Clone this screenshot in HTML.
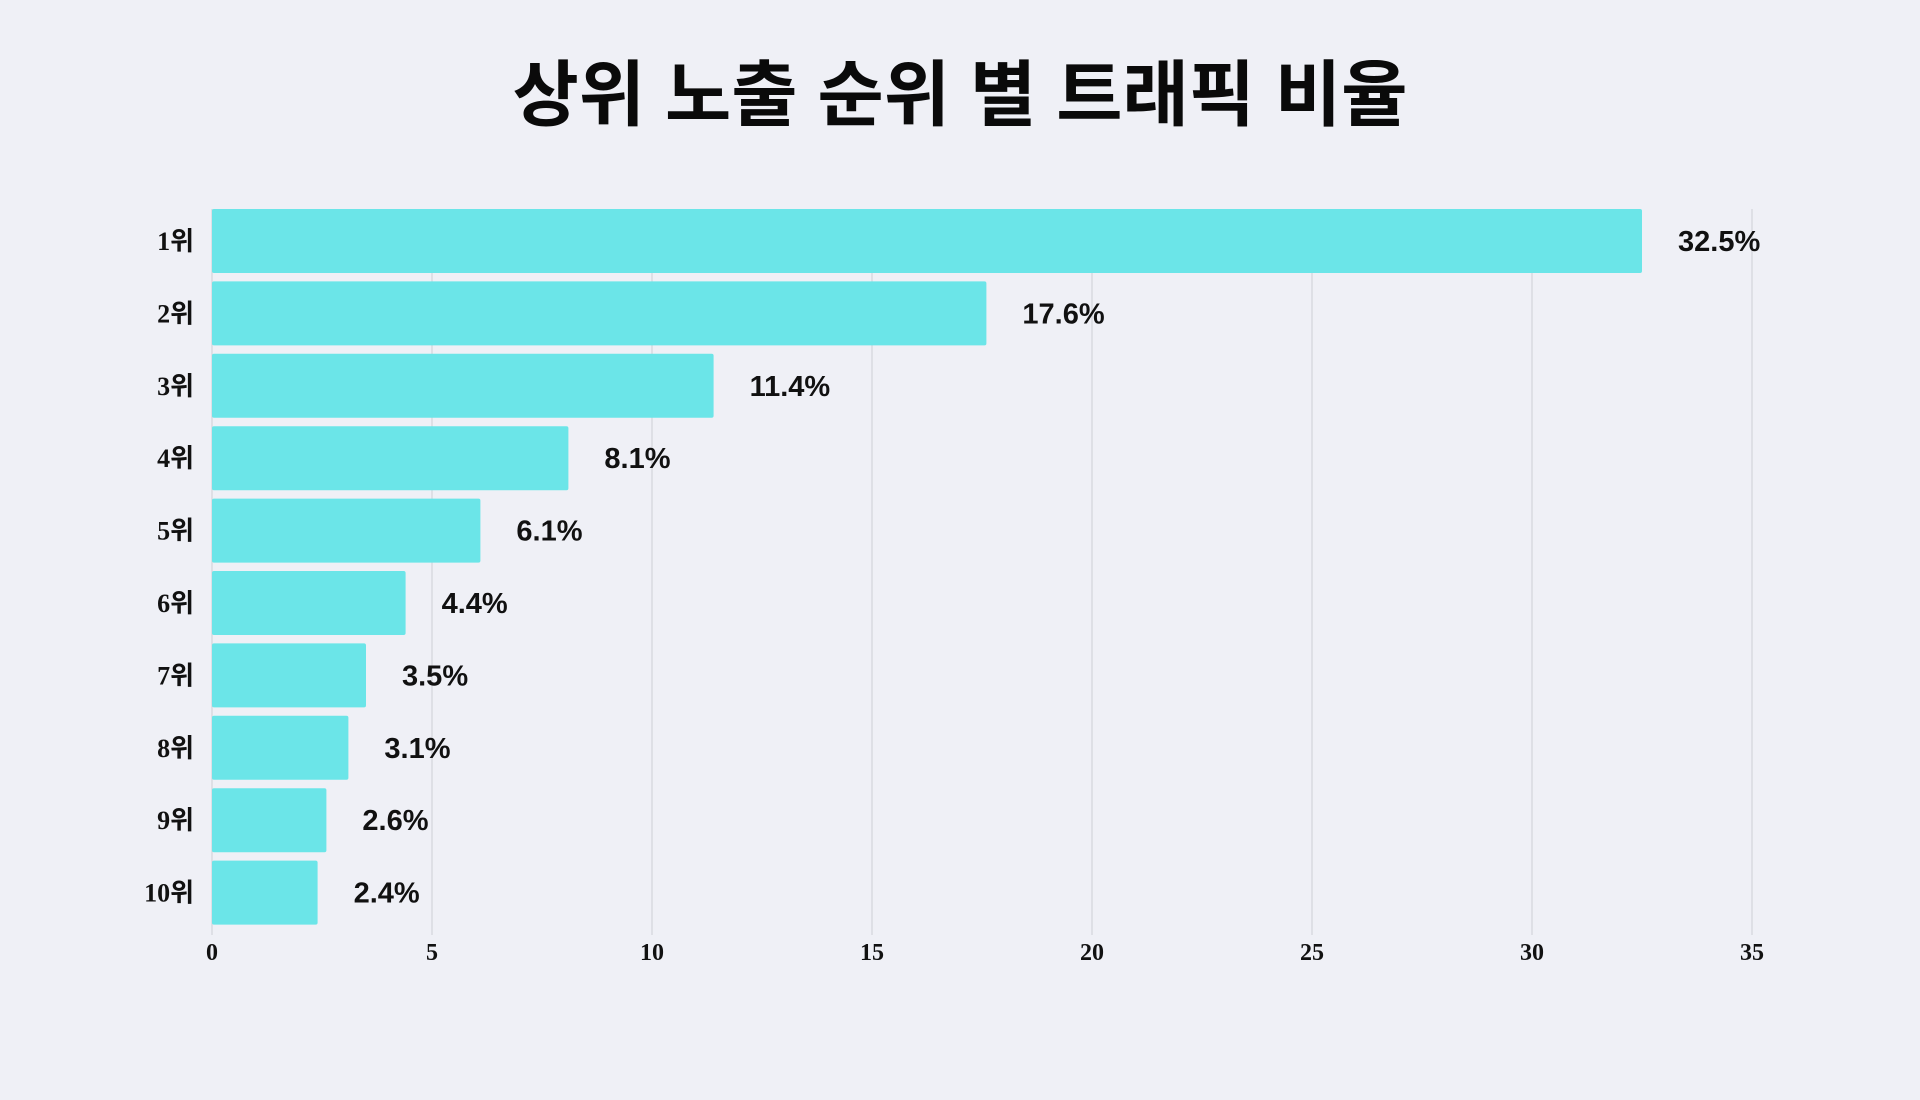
<!DOCTYPE html>
<html lang="ko">
<head>
<meta charset="utf-8">
<style>
  html,body{margin:0;padding:0;}
  body{width:1920px;height:1100px;background:#eff0f6;overflow:hidden;}
  #chart{display:block;}
</style>
</head>
<body>
<svg id="chart" width="1920" height="1100" viewBox="0 0 1920 1100" xmlns="http://www.w3.org/2000/svg">
  <rect width="1920" height="1100" fill="#eff0f6"/>
  <text x="960" y="120" text-anchor="middle" font-family="'Liberation Sans','Noto Sans CJK KR',sans-serif" font-weight="bold" font-size="72" fill="#0a0a0a">상위 노출 순위 별 트래픽 비율</text>
  <g id="grid"></g>
  <g id="bars"></g>
  <g id="xticks"></g>
  <g id="yticks"></g>
</svg>
<script>
const categories = ["1위","2위","3위","4위","5위","6위","7위","8위","9위","10위"];
const values = [32.5,17.6,11.4,8.1,6.1,4.4,3.5,3.1,2.6,2.4];
const valueLabels = ["32.5%","17.6%","11.4%","8.1%","6.1%","4.4%","3.5%","3.1%","2.6%","2.4%"];
const xTicks = [0,5,10,15,20,25,30,35];

const NS = "http://www.w3.org/2000/svg";
const x0 = 212, x1 = 1752, xMax = 35;
const yTop = 209, pitch = 72.4, barH = 64;
function xScale(v){ return x0 + (v / xMax) * (x1 - x0); }
function yScale(i){ return yTop + i * pitch; }
function mk(tag, attrs){ const e = document.createElementNS(NS, tag); for (const k in attrs) e.setAttribute(k, attrs[k]); return e; }

const grid = document.getElementById('grid');
const xt = document.getElementById('xticks');
xTicks.forEach(t => {
  const l = mk('line', {x1: xScale(t), x2: xScale(t), y1: 209, y2: 935, stroke: '#d3d4da', 'stroke-width': 1.2});
  
  
  grid.appendChild(l);
  const tx = mk('text', {x: xScale(t), y: 960, 'text-anchor': 'middle', 'font-family': "'Liberation Serif',serif", 'font-weight': 'bold', 'font-size': 24, fill: '#111'});
  tx.textContent = t;
  
  
  xt.appendChild(tx);
});

const bars = document.getElementById('bars');
const yt = document.getElementById('yticks');
categories.forEach((c, i) => {
  const y = yScale(i);
  const r = mk('rect', {x: x0, y: y, width: xScale(values[i]) - x0, height: barH, rx: 2, fill: '#6be5e8'});
  
  
  bars.appendChild(r);
  const vl = mk('text', {x: xScale(values[i]) + 36, y: y + barH / 2 + 10, 'font-family': "'Liberation Sans',sans-serif", 'font-weight': 'bold', 'font-size': 29, fill: '#111'});
  vl.textContent = valueLabels[i];
  
  
  bars.appendChild(vl);
  const cl = mk('text', {x: 194, y: y + barH / 2 + 9, 'text-anchor': 'end', 'font-family': "'Liberation Serif','Noto Sans CJK KR',serif", 'font-weight': 'bold', 'font-size': 26, fill: '#111'});
  cl.textContent = c;
  
  
  yt.appendChild(cl);
});
</script>
</body>
</html>
